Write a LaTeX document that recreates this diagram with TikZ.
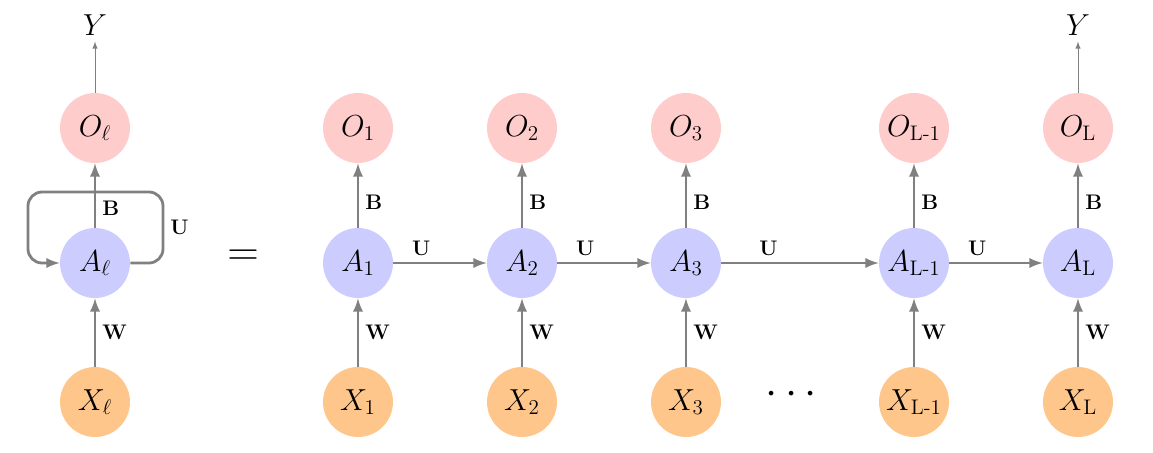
\documentclass[tikz,border=0pt]{standalone}
\usepackage{amsmath,amssymb}
\usetikzlibrary{arrows,positioning,calc}

\begin{document}
\begin{tikzpicture}[x=0.02cm,y=-0.02cm,>=latex,
    unit/.style={circle, minimum size=1.4cm, inner sep=0pt, font=\LARGE},
    outcell/.style={unit, fill=red!20},
    hidcell/.style={unit, fill=blue!20},
    inpcell/.style={unit, fill=orange!45},
    link/.style={->, draw=gray, line width=1.6pt},
    wlab/.style={font=\large}]
    \useasboundingbox (0,0) rectangle (1153,453);

    % Folded cell
    \node[outcell] (Ol) at (95,128) {$O_\ell$};
    \node[hidcell] (Al) at (95,263) {$A_\ell$};
    \node[inpcell] (Xl) at (95,402) {$X_\ell$};
    \node[font=\LARGE] (Yl) at (95,25) {$Y$};
    \draw[->, gray, thin] (Ol) -- (Yl);
    \draw[link] (Al) -- node[right, wlab, pos=0.3] {$\mathbf{B}$} (Ol);
    \draw[link] (Xl) -- node[right, wlab] {$\mathbf{W}$} (Al);
    \draw[link, rounded corners=8pt] (Al.east) -- (163,263) -- node[right, wlab] {$\mathbf{U}$} (163,192)
        -- (28,192) -- (28,263) -- (Al.west);

    \node[font=\Huge] (eq) at (243,258) {$=$};

    % Unrolled cells
    \foreach \i/\x/\s in {1/358/1, 2/522/2, 3/686/3, 4/914/{\text{L-1}}, 5/1078/{\text{L}}} {
        \node[outcell] (O\i) at (\x,128) {$O_{\s}$};
        \node[hidcell] (A\i) at (\x,263) {$A_{\s}$};
        \node[inpcell] (X\i) at (\x,402) {$X_{\s}$};
        \draw[link] (A\i) -- node[right, wlab, pos=0.4] {$\mathbf{B}$} (O\i);
        \draw[link] (X\i) -- node[right, wlab] {$\mathbf{W}$} (A\i);
    }
    \foreach \i/\j in {1/2, 2/3, 3/4, 4/5}
        \draw[link] (A\i) -- node[above, wlab, pos=0.3] {$\mathbf{U}$} (A\j);

    \node[font=\LARGE] (Y5) at (1078,25) {$Y$};
    \draw[->, gray, thin] (O5) -- (Y5);
    \node[font=\Huge] (dots) at (795,395) {$\cdots$};
\end{tikzpicture}
\end{document}
